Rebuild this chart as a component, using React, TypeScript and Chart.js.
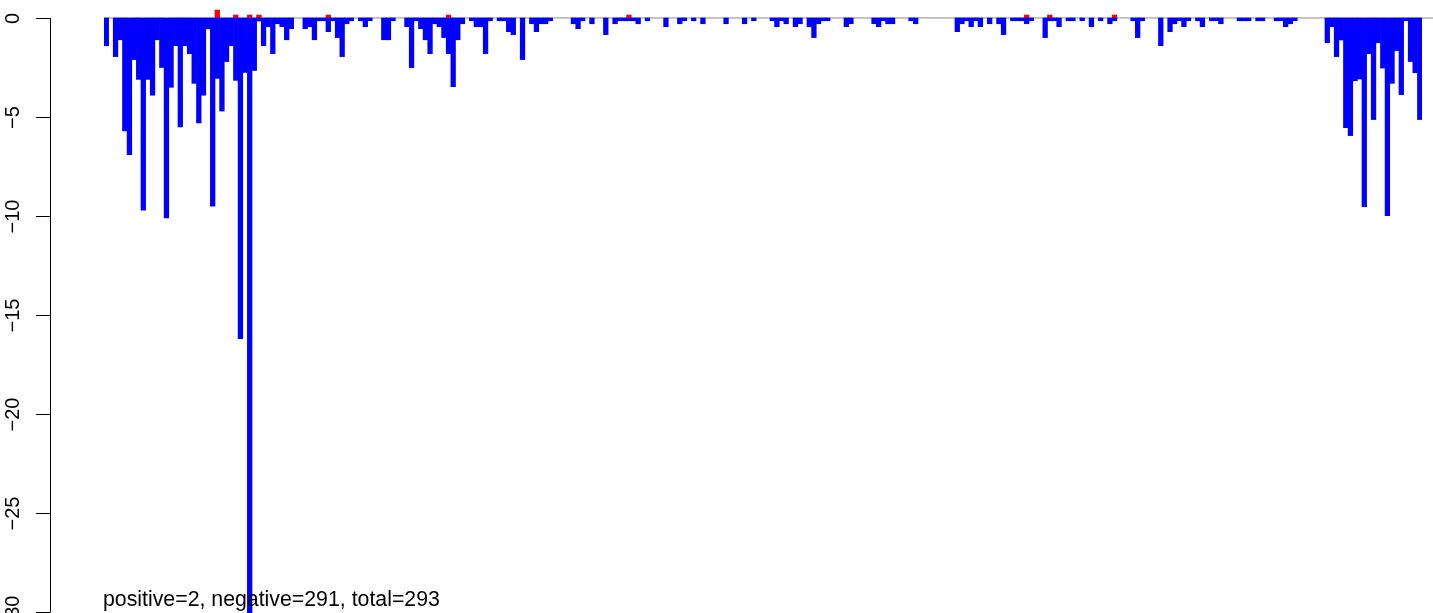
import { useEffect, useRef } from "react";
import { Chart, registerables } from "chart.js";

Chart.register(...registerables);

// Negative (loss) values per bar, left to right
const negativeValues: number[] = [
  -1.4, 0, -1.95, -1.1, -5.7, -6.9, -2.1, -3.1, -9.7, -3.1,
  -3.9, -1.1, -2.5, -10.1, -3.5, -1.4, -5.5, -1.4, -1.8, -3.3,
  -5.3, -3.9, -0.55, -9.5, -3.05, -4.7, -2.2, -1.4, -3.15, -16.2,
  -2.75, -30.5, -2.65, -0.15, -1.4, -0.44, -1.8, -0.29, -0.44, -1.1,
  -0.54, 0, 0, -0.54, -0.44, -1.1, -0.14, -0.14, -0.69, -0.14,
  -0.99, -1.95, -0.29, -0.14, 0, -0.14, -0.44, -0.14, 0, 0,
  -1.1, -1.1, -0.14, 0, 0, -0.44, -2.51, -0.14, -0.54, -1.1,
  -1.8, -0.29, -0.44, -0.99, -1.8, -3.47, -1.1, -0.29, 0, -0.14,
  -0.44, -0.44, -1.8, -0.14, 0, -0.14, -0.14, -0.69, -0.84, 0,
  -2.1, 0, -0.29, -0.69, -0.29, -0.29, -0.14, 0, 0, 0,
  0, -0.29, -0.54, -0.14, 0, -0.29, 0, 0, -0.84, 0,
  -0.29, -0.14, -0.14, -0.14, -0.14, -0.29, 0, -0.14, 0, 0,
  0, -0.44, 0, 0, -0.29, -0.14, 0, -0.14, 0, -0.29,
  0, 0, 0, 0, -0.29, 0, 0, 0, -0.29, 0,
  -0.14, 0, 0, 0, -0.14, -0.44, -0.14, -0.29, 0, -0.44,
  -0.29, 0, -0.44, -0.99, -0.29, -0.14, -0.14, 0, 0, 0,
  -0.44, -0.29, 0, 0, 0, 0, -0.29, -0.44, -0.14, -0.29,
  -0.29, 0, 0, 0, -0.14, -0.29, 0, 0, 0, 0,
  0, 0, 0, 0, -0.69, -0.29, -0.14, -0.44, -0.14, -0.44,
  0, -0.29, 0, -0.29, -0.84, 0, -0.14, -0.14, -0.14, -0.29,
  -0.14, 0, 0, -0.99, -0.14, -0.14, -0.44, 0, -0.14, -0.14,
  0, -0.14, 0, -0.44, 0, -0.14, 0, -0.29, -0.14, 0,
  0, 0, -0.14, -0.99, -0.14, 0, 0, 0, -1.4, 0,
  -0.69, -0.29, -0.14, -0.44, -0.14, 0, -0.14, -0.44, 0, -0.14,
  -0.14, -0.29, 0, 0, 0, -0.14, -0.14, -0.14, 0, -0.14,
  -0.14, 0, 0, -0.14, -0.14, -0.44, -0.29, -0.14, 0, 0,
  0, 0, 0, 0, -1.25, -0.44, -1.95, -1.11, -5.54, -5.94,
  -3.17, -3.08, -9.53, -1.8, -5.13, -1.25, -2.53, -9.98, -3.3, -1.65,
  -3.87, -0.14, -2.2, -2.76, -5.13,
];

// Positive (gain) bars: [bar index, value]
const positiveEntries: [number, number][] = [
  [24, 0.4], [28, 0.15], [31, 0.15], [33, 0.15], [48, 0.15],
  [74, 0.15], [113, 0.15], [199, 0.15], [204, 0.15], [218, 0.15],
];

const categories: string[] = negativeValues.map((_, i) => String(i + 1));

const yTickValues: number[] = [0, -5, -10, -15, -20, -25, -30];
const yTickLabels: string[] = ["0", "\u22125", "\u221210", "\u221215", "\u221220", "\u221225", "\u221230"];

const captionText = "positive=2, negative=291, total=293";

const FONT = '"Liberation Sans", Arial, Helvetica, sans-serif';

export default function App() {
  const canvasRef = useRef<HTMLCanvasElement | null>(null);

  useEffect(() => {
    const canvas = canvasRef.current;
    if (!canvas) return;

    const positiveValues: (number | null)[] = negativeValues.map(() => null);
    positiveEntries.forEach(([i, v]) => {
      positiveValues[i] = v;
    });
    const negativeDrawn: (number | null)[] = negativeValues.map((v) => (v === 0 ? null : v));

    const decorPlugin = {
      id: "decor",
      beforeDatasetsDraw(chart: any) {
        const ctx = chart.ctx;
        const y = chart.scales.y;
        const y0 = y.getPixelForValue(0);
        ctx.save();
        ctx.strokeStyle = "#8c8c8c";
        ctx.lineWidth = 1;
        ctx.beginPath();
        ctx.moveTo(chart.chartArea.left, y0);
        ctx.lineTo(chart.width, y0);
        ctx.stroke();
        ctx.restore();
      },
      afterDraw(chart: any) {
        const ctx = chart.ctx;
        const y = chart.scales.y;
        ctx.save();
        ctx.strokeStyle = "#000";
        ctx.lineWidth = 1;
        const axisX = 50.5;
        ctx.beginPath();
        ctx.moveTo(axisX, y.getPixelForValue(yTickValues[0]));
        ctx.lineTo(axisX, y.getPixelForValue(yTickValues[yTickValues.length - 1]));
        ctx.stroke();
        ctx.fillStyle = "#000";
        ctx.font = `20px ${FONT}`;
        ctx.textAlign = "center";
        ctx.textBaseline = "alphabetic";
        yTickValues.forEach((v, k) => {
          const py = Math.round(y.getPixelForValue(v)) + 0.5;
          ctx.beginPath();
          ctx.moveTo(36, py);
          ctx.lineTo(axisX, py);
          ctx.stroke();
          ctx.save();
          ctx.translate(19, py);
          ctx.rotate(-Math.PI / 2);
          ctx.fillText(yTickLabels[k], 0, 0);
          ctx.restore();
        });
        ctx.font = `21.3px ${FONT}`;
        ctx.textAlign = "left";
        ctx.fillText(captionText, 103, 606);
        ctx.restore();
      },
    };

    const chart = new Chart(canvas, {
      type: "bar",
      data: {
        labels: categories,
        datasets: [
          {
            label: "negative",
            data: negativeDrawn,
            backgroundColor: "#0000ff",
            borderWidth: 0,
            barPercentage: 1,
            categoryPercentage: 1,
          },
          {
            label: "positive",
            data: positiveValues,
            backgroundColor: "#ff0000",
            borderWidth: 0,
            barPercentage: 1,
            categoryPercentage: 1,
          },
        ],
      },
      options: {
        responsive: false,
        animation: false,
        devicePixelRatio: 1,
        layout: { padding: { left: 104, right: 10.9, top: 0, bottom: 0 } },
        plugins: {
          legend: { display: false },
          tooltip: { enabled: false },
        },
        scales: {
          x: { display: false, stacked: true, offset: true },
          y: { display: false, stacked: true, min: -30.05, max: 0.909 },
        },
      },
      plugins: [decorPlugin],
    });

    return () => chart.destroy();
  }, []);

  return (
    <div style={{ position: "fixed", left: 0, top: 0, width: 1433, height: 613, background: "#fff" }}>
      <canvas ref={canvasRef} width={1433} height={613} style={{ display: "block" }} />
    </div>
  );
}
